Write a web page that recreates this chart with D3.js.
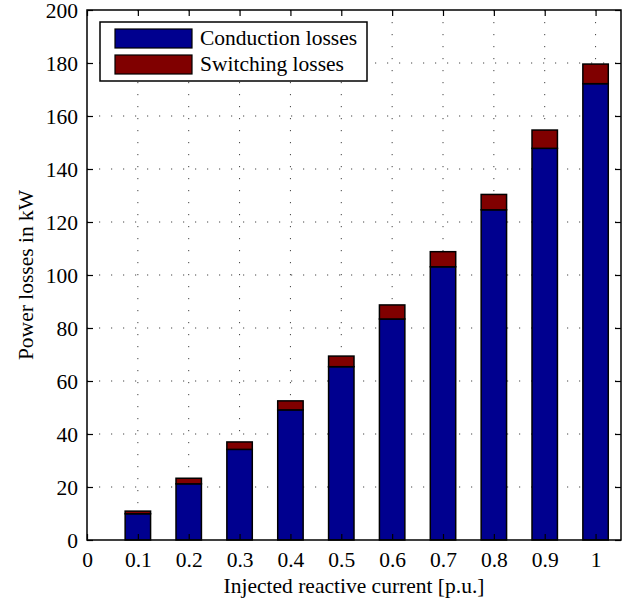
<!DOCTYPE html>
<html>
<head>
<meta charset="utf-8">
<script src="https://cdn.jsdelivr.net/npm/d3@7"></script>
<style>
  body { margin: 0; background: #fff; }
  text { font-family: "Liberation Serif", "Times New Roman", serif; fill: #000; }
</style>
</head>
<body>
<svg id="chart" width="631" height="600"></svg>
<script>
// data
const currents = [0.1, 0.2, 0.3, 0.4, 0.5, 0.6, 0.7, 0.8, 0.9, 1];
const conduction = [9.9, 21.2, 34.2, 49.1, 65.4, 83.4, 103.1, 124.6, 147.8, 172.2];
const switching = [1.0, 2.1, 2.8, 3.4, 4.0, 5.3, 5.7, 5.8, 6.9, 7.4];
const seriesNames = ["Conduction losses", "Switching losses"];
const seriesColors = ["#00008f", "#800000"];
const xTicks = [0, 0.1, 0.2, 0.3, 0.4, 0.5, 0.6, 0.7, 0.8, 0.9, 1];
const yTicks = [0, 20, 40, 60, 80, 100, 120, 140, 160, 180, 200];

const margin = { left: 87, top: 10, right: 10, bottom: 60 };
const W = 631, H = 600;
const w = W - margin.left - margin.right;
const h = H - margin.top - margin.bottom;
const fs = 21.5;

const svg = d3.select("#chart");
const g = svg.append("g").attr("transform", `translate(${margin.left},${margin.top})`);

const x = d3.scaleLinear().domain([0, 1.05]).range([0, w]);
const y = d3.scaleLinear().domain([0, 200]).range([h, 0]);

// dotted grid
g.append("g").selectAll("line")
    .data(xTicks.slice(1))
    .enter().append("line")
    .attr("x1", d => x(d)).attr("x2", d => x(d))
    .attr("y1", 0).attr("y2", h)
    .attr("stroke", "#444").attr("stroke-width", 1)
    .attr("stroke-dasharray", "1.2,10.8");
g.append("g").selectAll("line")
    .data(yTicks.slice(1, -1))
    .enter().append("line")
    .attr("x1", 0).attr("x2", w)
    .attr("y1", d => y(d)).attr("y2", d => y(d))
    .attr("stroke", "#444").attr("stroke-width", 1)
    .attr("stroke-dasharray", "1.2,10.8");

// stacked bars
const rows = currents.map((c, i) => ({ c: c, cond: conduction[i], sw: switching[i] }));
const stacked = d3.stack().keys(["cond", "sw"])(rows);
const bw = x(0.05) - x(0);

g.append("g").selectAll("g")
    .data(stacked)
    .enter().append("g")
    .attr("fill", (d, i) => seriesColors[i])
    .selectAll("rect")
    .data(d => d)
    .enter().append("rect")
    .attr("x", d => x(d.data.c) - bw / 2)
    .attr("width", bw)
    .attr("y", d => y(d[1]))
    .attr("height", d => y(d[0]) - y(d[1]))
    .attr("stroke", "#000").attr("stroke-width", 1.5);

// axes (ticks inside, box on)
const tick = 6;
const xAxis = d3.axisBottom(x).tickValues(xTicks).tickSize(-tick).tickPadding(12).tickFormat(d3.format("~g"));
const yAxis = d3.axisLeft(y).tickValues(yTicks).tickSize(-tick).tickPadding(9).tickFormat(d3.format("d"));

g.append("g").attr("transform", `translate(0,${h})`).call(xAxis)
    .call(a => a.select(".domain").remove())
    .call(a => a.selectAll("text").attr("font-size", fs).attr("font-family", "Liberation Serif"));
g.append("g").call(yAxis)
    .call(a => a.select(".domain").remove())
    .call(a => a.selectAll("text").attr("font-size", fs).attr("font-family", "Liberation Serif").attr("dy", "0.35em"));
g.append("g").attr("transform", `translate(${w},0)`)
    .call(d3.axisRight(y).tickValues(yTicks).tickSize(-tick).tickFormat(""))
    .call(a => a.select(".domain").remove());
g.append("g")
    .call(d3.axisTop(x).tickValues(xTicks).tickSize(-tick).tickFormat(""))
    .call(a => a.select(".domain").remove());

g.append("rect")
    .attr("x", 0).attr("y", 0).attr("width", w).attr("height", h)
    .attr("fill", "none").attr("stroke", "#000").attr("stroke-width", 1.5);
g.selectAll(".tick line").attr("stroke", "#000").attr("stroke-width", 1.2);

// axis labels
svg.append("text")
    .attr("x", margin.left + w / 2).attr("y", 593)
    .attr("text-anchor", "middle").attr("font-size", fs)
    .text("Injected reactive current [p.u.]");
svg.append("text")
    .attr("transform", `translate(33,${margin.top + h / 2}) rotate(-90)`)
    .attr("text-anchor", "middle").attr("font-size", fs)
    .text("Power losses in kW");

// legend
const leg = svg.append("g").attr("transform", "translate(100,22)");
leg.append("rect")
    .attr("width", 267).attr("height", 59)
    .attr("fill", "#fff").attr("stroke", "#000").attr("stroke-width", 1.5);
const items = leg.selectAll("g.item")
    .data(seriesNames)
    .enter().append("g")
    .attr("transform", (d, i) => `translate(15,${7 + i * 26})`);
items.append("rect")
    .attr("width", 77).attr("height", 19)
    .attr("fill", (d, i) => seriesColors[i])
    .attr("stroke", "#000").attr("stroke-width", 1.2);
items.append("text")
    .attr("x", 85).attr("y", 16)
    .attr("font-size", fs)
    .text(d => d);
</script>
</body>
</html>
